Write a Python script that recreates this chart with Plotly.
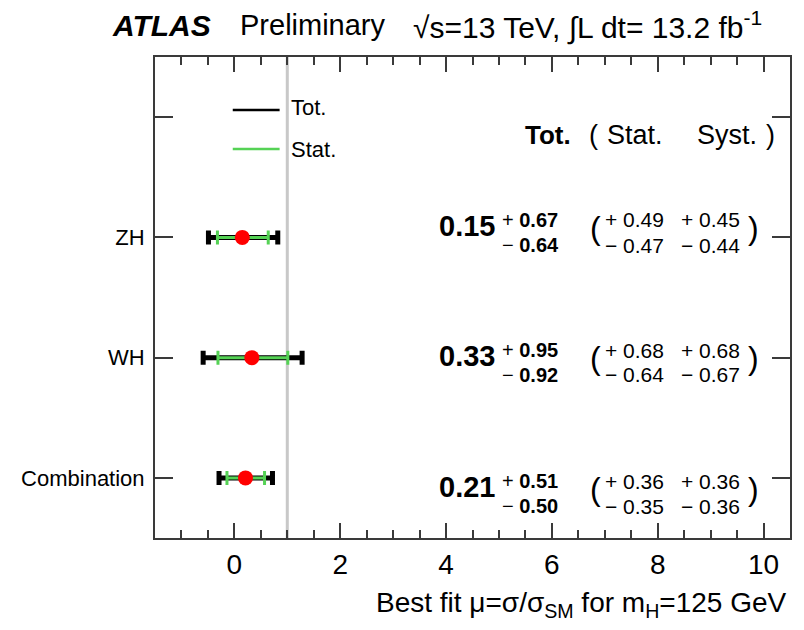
import plotly.graph_objects as go

# Signal-strength results per channel
channels = ["Combination", "WH", "ZH"]
mu = [0.21, 0.33, 0.15]
tot_up = [0.51, 0.95, 0.67]
tot_dn = [0.50, 0.92, 0.64]
stat_up = [0.36, 0.68, 0.49]
stat_dn = [0.35, 0.64, 0.47]
syst_up = [0.36, 0.68, 0.45]
syst_dn = [0.36, 0.67, 0.44]
rows = [0, 1, 2]

FONT = "Liberation Sans, Arial, Helvetica, sans-serif"
GREEN = "#55d255"
AXIS = "#3a3a3a"

W, H = 804, 630
ML, MR, MT, MB = 155, 12, 57, 92
PW, PH = W - ML - MR, H - MT - MB


def px(x):
    return (x - ML) / PW


def py(y):
    return (H - MB - y) / PH


fig = go.Figure()

# total uncertainty (black, thick)
fig.add_trace(go.Scatter(
    x=mu, y=rows, mode="markers",
    marker=dict(size=1, opacity=0),
    error_x=dict(type="data", symmetric=False, array=tot_up, arrayminus=tot_dn,
                 color="black", thickness=5, width=7),
    showlegend=False, hoverinfo="skip"))

# statistical uncertainty (green)
fig.add_trace(go.Scatter(
    x=mu, y=rows, mode="markers",
    marker=dict(size=1, opacity=0),
    error_x=dict(type="data", symmetric=False, array=stat_up, arrayminus=stat_dn,
                 color=GREEN, thickness=3, width=7),
    showlegend=False, hoverinfo="skip"))

# best-fit points
fig.add_trace(go.Scatter(
    x=mu, y=rows, mode="markers",
    marker=dict(size=15, color="red"),
    showlegend=False))

# SM expectation
fig.add_shape(type="line", xref="x", yref="paper", x0=1, x1=1, y0=0, y1=1,
              line=dict(color="#c8c8c8", width=3), layer="below")

ann = []


def text(x, y, s, size, anchor="left", yanchor="middle"):
    ann.append(dict(x=px(x), y=py(y), xref="paper", yref="paper", text=s,
                    showarrow=False, xanchor=anchor, yanchor=yanchor,
                    font=dict(family=FONT, size=size, color="black")))


# header line
text(110, 25, "<b><i>ATLAS</i></b>", 30)
text(238, 25, "Preliminary", 29)
text(412, 25, "√s=13 TeV, ∫L dt= 13.2 fb<sup>-1</sup>", 30)

# legend
fig.add_shape(type="line", xref="paper", yref="paper", x0=px(233), x1=px(280),
              y0=py(110), y1=py(110), line=dict(color="black", width=2.5))
fig.add_shape(type="line", xref="paper", yref="paper", x0=px(233), x1=px(280),
              y0=py(149), y1=py(149), line=dict(color=GREEN, width=2.5))
text(289, 108, "Tot.", 22)
text(289, 149, "Stat.", 22)

# column headers
text(524, 135, "<b>Tot.</b>", 26)
text(588, 135, "(", 27)
text(606, 135, "Stat.", 27)
text(697, 135, "Syst.", 27)
text(766, 135, ")", 27)

# numeric results per row (text centre in pixels)
row_centre = {2: 226, 1: 356, 0: 487}
for i, r in enumerate(rows):
    yc = row_centre[r]
    text(498, yc, f"<b>{mu[i]:.2f}</b>", 29, anchor="right")
    text(501, yc - 6, f"+ <b>{tot_up[i]:.2f}</b>", 20)
    text(501, yc + 19, f"− <b>{tot_dn[i]:.2f}</b>", 20)
    text(589, yc + 2, "(", 32)
    text(604, yc - 6, f"+ {stat_up[i]:.2f}", 21)
    text(604, yc + 19, f"− {stat_dn[i]:.2f}", 21)
    text(681, yc - 6, f"+ {syst_up[i]:.2f}", 21)
    text(681, yc + 19, f"− {syst_dn[i]:.2f}", 21)
    text(748, yc + 2, ")", 32)

# x-axis title
ann.append(dict(x=px(791), y=py(604), xref="paper", yref="paper",
                text="Best fit μ=σ/σ<sub>SM</sub> for m<sub>H</sub>=125 GeV",
                showarrow=False, xanchor="right", yanchor="middle",
                font=dict(family=FONT, size=28, color="black")))

fig.update_layout(
    width=W, height=H,
    margin=dict(l=ML, r=MR, t=MT, b=MB),
    paper_bgcolor="white", plot_bgcolor="white",
    font=dict(family=FONT, color="black"),
    annotations=ann,
    showlegend=False,
)

fig.update_xaxes(
    range=[-1.5, 10.5], tickmode="linear", tick0=0, dtick=2,
    ticks="inside", ticklen=15, tickwidth=1.5, tickcolor=AXIS,
    minor=dict(dtick=0.5, tick0=0, ticks="inside", ticklen=8, tickwidth=1.5,
               tickcolor=AXIS, showgrid=False),
    showline=True, linecolor=AXIS, linewidth=2, mirror="ticks",
    showgrid=False, zeroline=False,
    tickfont=dict(family=FONT, size=28, color="black"),
)

fig.update_yaxes(
    range=[-0.5, 3.5], tickmode="array", tickvals=[0, 1, 2, 3],
    ticktext=channels + [" "],
    ticks="inside", ticklen=18, tickwidth=1.5, tickcolor=AXIS,
    showline=True, linecolor=AXIS, linewidth=2, mirror="ticks",
    showgrid=False, zeroline=False, ticklabelstandoff=4,
    tickfont=dict(family=FONT, size=22, color="black"),
)

fig.write_html("out.html")
